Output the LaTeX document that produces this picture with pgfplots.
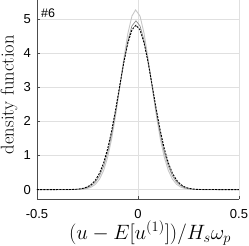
\documentclass[border=0pt]{standalone}
\usepackage{pgfplots}
\pgfplotsset{compat=1.18}
\usepackage{fontspec}
\newfontfamily\hv{Liberation Sans}
\begin{document}
\begin{tikzpicture}
\begin{axis}[name=ax, scale only axis, width=202pt, height=199.5pt,
  xmin=-0.5, xmax=0.5, ymin=-0.29, ymax=5.56,
  xtick={-0.5,0,0.5}, xticklabels={-0.5,0,0.5},
  ytick={0,1,2,3,4,5}, yticklabels={0,1,2,3,4,5},
  ticklabel style={font=\hv\fontsize{13}{13}\selectfont},
  xticklabel style={yshift=-6pt},
  yticklabel style={xshift=-2.5pt},
  axis lines=left, axis line style={-, black!70, line width=0.5pt},
  tick style={black!70, line width=0.5pt}, tick align=inside, major tick length=3pt,
  grid=major, major grid style={black!12, line width=0.5pt},
  xtick pos=bottom, ytick pos=left,
  xlabel={$(u-E[u^{(1)}])/H_s\omega_p$},
  ylabel={density function},
  xlabel style={font=\fontsize{22}{22}\selectfont, inner sep=0pt, at={(axis description cs:0.5,0)}, anchor=center, yshift=-33.5pt, xshift=12pt},
  ylabel style={font=\fontsize{18.5}{18.5}\selectfont, inner sep=0pt, at={(axis description cs:-0.1386,0.526)}, anchor=center},
  clip=false]
\addplot[black!22, line width=0.9pt] coordinates {
(-0.5,0) (-0.31,0.002) (-0.29,0.006) (-0.27,0.014) (-0.25,0.035) (-0.23,0.077) (-0.21,0.161) (-0.19,0.312) (-0.17,0.564) (-0.15,0.953) (-0.13,1.500) (-0.11,2.202) (-0.09,3.015) (-0.07,3.849) (-0.05,4.583) (-0.03,5.089) (-0.012,5.27) (0.01,5.089) (0.03,4.583) (0.05,3.849) (0.07,3.015) (0.09,2.202) (0.11,1.500) (0.13,0.953) (0.15,0.564) (0.17,0.312) (0.19,0.161) (0.21,0.077) (0.23,0.035) (0.25,0.014) (0.27,0.006) (0.29,0.002) (0.5,0)};
\addplot[black!45, line width=0.7pt] coordinates {
(-0.5,0) (-0.31,0.005) (-0.29,0.012) (-0.27,0.027) (-0.25,0.059) (-0.23,0.119) (-0.21,0.228) (-0.19,0.409) (-0.17,0.690) (-0.15,1.095) (-0.13,1.634) (-0.11,2.293) (-0.09,3.025) (-0.07,3.752) (-0.05,4.376) (-0.03,4.800) (-0.01,4.95) (0.01,4.800) (0.03,4.376) (0.05,3.752) (0.07,3.025) (0.09,2.293) (0.11,1.634) (0.13,1.095) (0.15,0.690) (0.17,0.409) (0.19,0.228) (0.21,0.119) (0.23,0.059) (0.25,0.027) (0.27,0.012) (0.29,0.005) (0.5,0)};
\addplot[black, line width=0.9pt, dash pattern=on 2pt off 1.2pt] coordinates {
(-0.5,0) (-0.33,0.003) (-0.31,0.008) (-0.29,0.019) (-0.27,0.040) (-0.25,0.081) (-0.23,0.156) (-0.21,0.283) (-0.19,0.485) (-0.17,0.786) (-0.15,1.202) (-0.13,1.737) (-0.11,2.373) (-0.09,3.063) (-0.07,3.735) (-0.05,4.303) (-0.03,4.685) (-0.01,4.82) (0.01,4.685) (0.03,4.303) (0.05,3.735) (0.07,3.063) (0.09,2.373) (0.11,1.737) (0.13,1.202) (0.15,0.786) (0.17,0.485) (0.19,0.283) (0.21,0.156) (0.23,0.081) (0.25,0.040) (0.27,0.019) (0.29,0.008) (0.31,0.003) (0.5,0)};
\node[anchor=base west, font=\hv\fontsize{12.5}{12.5}\selectfont, inner sep=0pt] at (axis cs:-0.48,5.04) {\#6};
\end{axis}
\pgfresetboundingbox
\path ([shift={(-37pt,-46.5pt)}]ax.south west) rectangle ([shift={(10pt,0pt)}]ax.north east);
\end{tikzpicture}
\end{document}
